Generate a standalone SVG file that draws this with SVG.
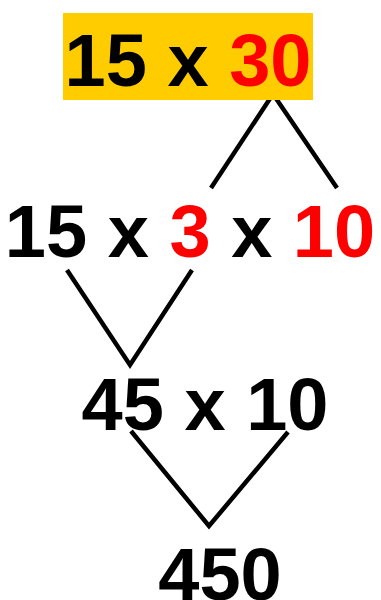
<svg xmlns="http://www.w3.org/2000/svg" width="381" height="600" viewBox="0 0 381 600">
<style>
.t{font-family:"Liberation Sans",Arial,sans-serif;font-weight:bold;font-size:74px;fill:#000;text-anchor:middle}
.r{fill:#ff0000}
.c{fill:none;stroke:#000;stroke-width:4.5}
</style>
<rect x="0" y="0" width="381" height="600" fill="#fff"/>
<g id="connectors">
<polyline class="c" points="211,188 273,94 337,188"/>
<polyline class="c" points="67,270 130,365 192,270"/>
<polyline class="c" points="131,431 209,526 288,432"/>
</g>
<g id="node1">
<rect x="63" y="13" width="250" height="87" fill="#ffcc00"/>
<text class="t" x="188" y="86">15 x <tspan class="r">30</tspan></text>
</g>
<g id="node2">
<text class="t" x="190" y="257">15 x <tspan class="r">3</tspan> x <tspan class="r">10</tspan></text>
</g>
<g id="node3">
<text class="t" x="205" y="430">45 x 10</text>
</g>
<g id="node4">
<text class="t" x="220" y="600">450</text>
</g>
</svg>
